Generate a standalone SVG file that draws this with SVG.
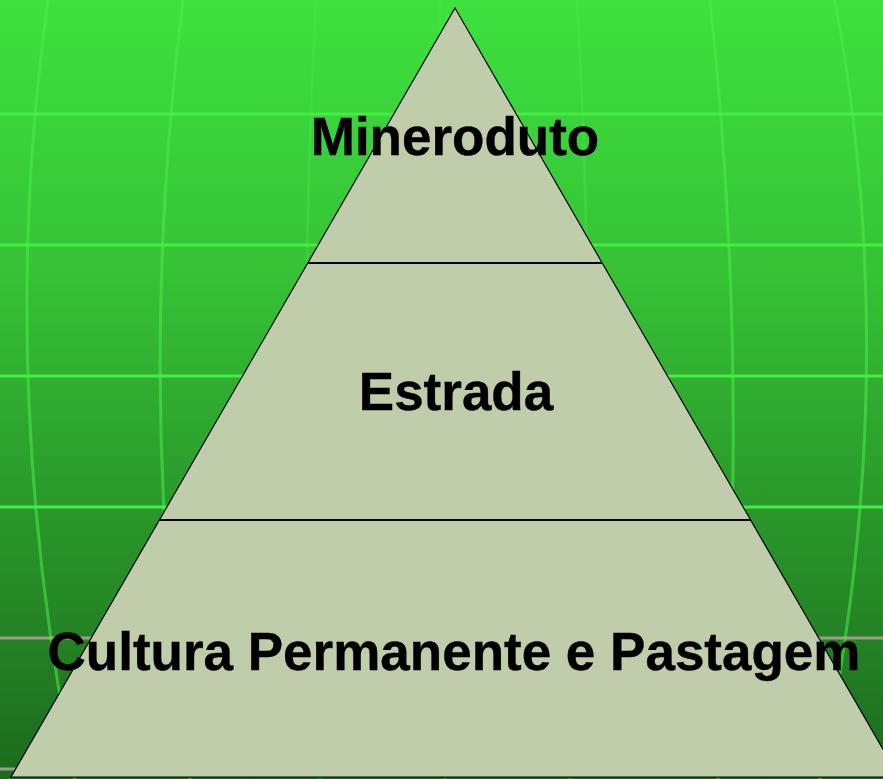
<svg xmlns="http://www.w3.org/2000/svg" width="883" height="779" viewBox="0 0 883 779">
<defs>
<linearGradient id="bg" x1="0" y1="0" x2="0" y2="1">
<stop offset="0" stop-color="#3ee13f"/>
<stop offset="0.35" stop-color="#36c236"/>
<stop offset="0.65" stop-color="#2a982a"/>
<stop offset="1" stop-color="#1d6a1e"/>
</linearGradient>
</defs>
<style>
.h{stroke:#45ee45;stroke-width:3;fill:none}
.hg{stroke:#a19b8c;stroke-width:3;fill:none}
.v{stroke:#4aee4a;stroke-width:3;fill:none;opacity:0.55}
.vf{stroke:#4aee4a;stroke-width:3;fill:none;opacity:0.3}
.lbl{font-family:"Liberation Sans",Arial,sans-serif;font-weight:bold;font-size:53px;fill:#000;text-anchor:middle;stroke:#000;stroke-width:0.4}
.tier{fill:#c0cdaa;stroke:none}
.div{stroke:#000;stroke-width:2}
</style>
<rect width="883" height="779" fill="url(#bg)"/>
<g id="grid">
<line class="h" x1="0" y1="114" x2="883" y2="114"/>
<line class="h" x1="0" y1="245" x2="883" y2="245"/>
<line class="h" x1="0" y1="376" x2="883" y2="376"/>
<line class="h" x1="0" y1="507" x2="883" y2="507"/>
<line class="hg" x1="0" y1="638" x2="883" y2="638"/>
<line class="hg" x1="0" y1="769" x2="883" y2="769"/>
<path class="v" d="M48,0 Q-5,380 75,779"/>
<path class="v" d="M183,0 Q134,390 190,779"/>
<path class="vf" d="M316,0 Q295,390 320,779"/>
<path class="vf" d="M440,0 Q438,390 445,779"/>
<path class="vf" d="M577,0 Q600,390 570,779"/>
<path class="v" d="M710,0 Q752,390 718,779"/>
<path class="v" d="M835,0 Q905,380 820,779"/>
</g>
<g id="pyramid">
<polygon class="tier" points="455,8 899,777 11,777"/>
</g>
<g id="tier-top">
<text class="lbl" x="455" y="155">Mineroduto</text>
</g>
<g id="tier-middle">
<text class="lbl" x="456" y="410">Estrada</text>
</g>
<g id="tier-bottom">
<text class="lbl" x="454" y="670">Cultura Permanente e Pastagem</text>
</g>
<g id="connectors">
<line class="div" x1="308" y1="263" x2="602" y2="263"/>
<line class="div" x1="159" y1="520" x2="751" y2="520"/>
<polygon points="455,8 899,777 11,777" fill="none" stroke="#000" stroke-width="1.2"/>
</g>
</svg>
